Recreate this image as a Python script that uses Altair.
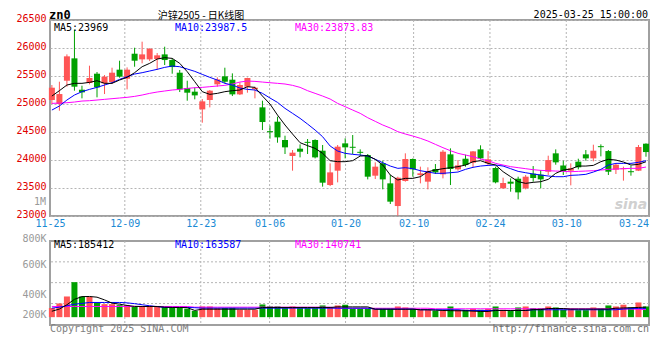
import altair as alt
import pandas as pd

# ---------------- data ----------------
opens = [25071, 25000, 25416, 25815, 25255, 25375, 25541, 25369, 25392, 25613,
         25452, 25898, 25797, 25797, 25803, 25886, 25785, 25559, 25285, 25220,
         24904, 25071, 25351, 25494, 25434, 25172, 25309, 25267, 24940, 24515,
         24684, 24357, 24071, 24202, 24324, 24357, 24166, 23553, 23809, 24297,
         24236, 24146, 24089, 23720, 23940, 23583, 23178, 23625, 24018, 23732,
         23613, 23839, 23744, 24101, 23833, 24023, 23952, 24190, 23940, 23857,
         23494, 23613, 23666, 23494, 23756, 23738, 23791, 24119, 23904, 23809,
         23970, 24101, 24029, 24247, 24160, 23827, 23836, 23800, 23809, 24291]
highs = [25339, 25398, 25886, 26327, 25327, 25684, 25571, 25517, 25648, 25773,
         25654, 26005, 26113, 25994, 25910, 26023, 25815, 25607, 25416, 25297,
         25089, 25250, 25476, 25648, 25547, 25386, 25470, 25309, 25059, 24613,
         24773, 24434, 24178, 24279, 24375, 24369, 24268, 23940, 24268, 24387,
         24446, 24190, 24107, 23958, 23988, 23732, 23702, 24119, 24029, 23881,
         23869, 23928, 24178, 24208, 23999, 24095, 24160, 24262, 24160, 23881,
         23684, 23672, 23702, 23732, 23892, 23821, 24077, 24190, 23988, 23940,
         24023, 24178, 24273, 24279, 24178, 23946, 23881, 23898, 24268, 24297]
lows = [25000, 24880, 25309, 25238, 25101, 25351, 25119, 25178, 25357, 25470,
        25261, 25666, 25726, 25767, 25607, 25696, 25541, 25214, 25059, 25083,
        24666, 24940, 25309, 25369, 25142, 25160, 25202, 25101, 24535, 24381,
        24309, 24107, 23809, 24047, 24107, 24029, 23524, 23535, 23601, 24029,
        24107, 24071, 23654, 23660, 23476, 23214, 23006, 23613, 23702, 23583,
        23476, 23750, 23672, 23553, 23809, 23881, 23869, 24012, 23910, 23583,
        23488, 23434, 23297, 23476, 23613, 23494, 23732, 23916, 23732, 23547,
        23833, 23988, 23976, 24065, 23732, 23750, 23631, 23720, 23803, 24059]
closes = [25291, 25178, 25851, 25309, 25208, 25464, 25297, 25488, 25559, 25488,
          25613, 25773, 25886, 25988, 25869, 25785, 25660, 25261, 25202, 25154,
          25047, 25238, 25440, 25398, 25172, 25339, 25464, 25291, 24678, 24497,
          24404, 24226, 24131, 24148, 24306, 24047, 23595, 23779, 24238, 24226,
          24218, 24128, 23702, 23881, 23654, 23256, 23684, 24018, 23833, 23762,
          23803, 23779, 24148, 23839, 23904, 23910, 24154, 24029, 24012, 23601,
          23589, 23577, 23422, 23702, 23678, 23654, 23999, 23958, 23803, 23851,
          23869, 24029, 24166, 24229, 23791, 23916, 23854, 23782, 24232, 24142]
ma5 = [25142, 25238, 25339, 25369, 25369, 25386, 25416, 25369, 25369, 25428,
       25476, 25559, 25666, 25726, 25803, 25827, 25815, 25726, 25577, 25398,
       25220, 25172, 25190, 25220, 25238, 25250, 25309, 25297, 25142, 25000,
       24803, 24625, 24464, 24309, 24256, 24208, 24119, 23988, 23970, 23970,
       23988, 24071, 24077, 24012, 23910, 23732, 23643, 23672, 23672, 23702,
       23791, 23821, 23845, 23863, 23881, 23910, 23970, 23988, 23940, 23910,
       23791, 23702, 23613, 23583, 23601, 23613, 23654, 23762, 23821, 23839,
       23892, 23892, 23904, 23970, 24012, 23999, 23964, 23910, 23922, 23969]
ma10 = [24892, 24964, 25071, 25160, 25220, 25261, 25297, 25339, 25380, 25440,
        25488, 25535, 25559, 25589, 25619, 25654, 25678, 25666, 25625, 25583,
        25529, 25476, 25428, 25369, 25339, 25285, 25261, 25250, 25190, 25107,
        25029, 24922, 24833, 24744, 24642, 24535, 24416, 24250, 24160, 24119,
        24101, 24089, 24071, 24012, 23952, 23892, 23851, 23863, 23845, 23809,
        23785, 23762, 23762, 23773, 23785, 23833, 23869, 23892, 23904, 23910,
        23892, 23845, 23797, 23773, 23750, 23732, 23714, 23702, 23702, 23726,
        23732, 23744, 23785, 23833, 23910, 23940, 23940, 23940, 23958, 23988]
ma30 = [25011, 25017, 25023, 25035, 25053, 25059, 25071, 25083, 25095, 25107,
        25119, 25136, 25160, 25190, 25214, 25232, 25250, 25261, 25279, 25291,
        25297, 25309, 25321, 25333, 25357, 25392, 25410, 25404, 25392, 25380,
        25369, 25357, 25333, 25297, 25238, 25190, 25142, 25089, 25011, 24952,
        24892, 24833, 24755, 24690, 24625, 24571, 24506, 24464, 24428, 24387,
        24339, 24279, 24220, 24166, 24119, 24089, 24059, 24018, 23988, 23940,
        23910, 23881, 23863, 23845, 23827, 23815, 23809, 23803, 23797, 23791,
        23797, 23803, 23809, 23821, 23833, 23839, 23845, 23851, 23851, 23874]
volumes = [170000, 254000, 383000, 648000, 383000, 374000, 267000, 241000, 241000, 222000,
           222000, 189000, 198000, 211000, 198000, 189000, 174000, 170000, 157000, 118000,
           198000, 198000, 167000, 170000, 174000, 137000, 137000, 137000, 235000, 198000,
           198000, 167000, 198000, 167000, 167000, 167000, 217000, 180000, 217000, 230000,
           156000, 156000, 156000, 156000, 156000, 156000, 198000, 180000, 156000, 137000,
           137000, 118000, 118000, 198000, 137000, 137000, 156000, 137000, 156000, 198000,
           137000, 118000, 180000, 198000, 167000, 167000, 198000, 180000, 137000, 156000,
           130000, 130000, 180000, 156000, 217000, 198000, 230000, 180000, 272000, 198000]
vol_ma5 = [110000, 150000, 230000, 330000, 380000, 383000, 370000, 320000, 260000, 240000,
           217000, 200000, 198000, 198000, 198000, 185000, 180000, 180000, 175000, 125000,
           148000, 148000, 148000, 148000, 148000, 148000, 148000, 148000, 180000, 180000,
           180000, 180000, 180000, 180000, 180000, 180000, 180000, 180000, 190000, 190000,
           190000, 190000, 190000, 148000, 148000, 148000, 148000, 148000, 148000, 137000,
           137000, 130000, 124000, 120000, 118000, 118000, 112000, 106000, 106000, 124000,
           124000, 124000, 124000, 124000, 140000, 140000, 160000, 160000, 160000, 150000,
           150000, 150000, 150000, 150000, 150000, 165000, 170000, 175000, 180000, 185412]
vol_ma10 = [167000, 185000, 211000, 240000, 255000, 272000, 272000, 272000, 272000, 272000,
            265000, 250000, 230000, 211000, 195000, 180000, 180000, 180000, 180000, 175000,
            167000, 167000, 167000, 167000, 167000, 167000, 167000, 167000, 167000, 167000,
            167000, 167000, 167000, 167000, 167000, 167000, 167000, 167000, 167000, 167000,
            167000, 167000, 167000, 148000, 148000, 148000, 148000, 148000, 148000, 137000,
            137000, 137000, 137000, 137000, 137000, 124000, 124000, 124000, 124000, 124000,
            124000, 124000, 124000, 124000, 137000, 137000, 137000, 137000, 137000, 137000,
            137000, 137000, 137000, 137000, 137000, 137000, 150000, 160000, 163000, 163587]
vol_ma30 = [198000, 198000, 198000, 198000, 198000, 198000, 198000, 198000, 198000, 198000,
            198000, 198000, 198000, 198000, 198000, 198000, 198000, 198000, 198000, 185000,
            185000, 185000, 185000, 185000, 185000, 185000, 185000, 185000, 185000, 185000,
            185000, 185000, 185000, 185000, 185000, 185000, 185000, 185000, 165000, 165000,
            165000, 165000, 165000, 165000, 165000, 165000, 165000, 165000, 165000, 165000,
            165000, 155000, 155000, 155000, 155000, 155000, 155000, 155000, 155000, 155000,
            155000, 155000, 155000, 155000, 155000, 155000, 155000, 155000, 155000, 155000,
            155000, 155000, 155000, 155000, 155000, 155000, 155000, 150000, 145000, 140741]

date_labels = ["11-25", "12-09", "12-23", "01-06", "01-20", "02-10", "02-24", "03-10", "03-24"]
date_pos = [-0.25, 9.7, 19.8, 28.95, 39.05, 48.1, 58.25, 68.4, 77.34]
grid_pos = [9.7, 19.8, 28.95, 39.05, 48.1, 58.25, 68.4]
price_ticks = [23000, 23500, 24000, 24500, 25000, 25500, 26000, 26500]
vol_label_text = ["800K", "600K", "400K", "200K"]
vol_label_pos = [1410000, 920000, 365000, 0]
vol_grid = [1024000, 639000, 252000]

# ---------------- styling ----------------
MONO = "DejaVu Sans Mono"
RED = "#ff5555"
GREEN = "#00a000"
GRIDC = "#b4b4b4"
W, H1, H2 = 599, 196, 84

n = len(opens)
df = pd.DataFrame({
    "i": list(range(n)), "open": opens, "high": highs, "low": lows, "close": closes,
    "ma5": ma5, "ma10": ma10, "ma30": ma30,
    "vol": volumes, "vma5": vol_ma5, "vma10": vol_ma10, "vma30": vol_ma30,
})


def lab_expr(poss, labs):
    e = "''"
    for p, l in reversed(list(zip(poss, labs))):
        e = f"abs(datum.value - ({p})) < 0.001 ? '{l}' : ({e})"
    return e


xscale = alt.Scale(domain=[-0.25, 79.4], nice=False, zero=False, padding=0)
pscale = alt.Scale(domain=[23000, 26500], nice=False, zero=False, padding=0)
vscale = alt.Scale(domain=[-145000, 1410000], nice=False, zero=False, padding=0)

x_axis = alt.Axis(values=date_pos, labelExpr=lab_expr(date_pos, date_labels), grid=False,
                  domain=False, ticks=False, tickSize=0, labelPadding=2, labelFlush=False,
                  labelBound=False, labelOverlap=False, labelFont=MONO, labelFontSize=10,
                  labelColor="#1a8ad4", title=None)
y_axis = alt.Axis(values=price_ticks, format="d", grid=True, gridDash=[2, 2], gridColor=GRIDC,
                  gridWidth=1, domain=False, ticks=False, tickSize=0, labelPadding=4,
                  labelFont=MONO, labelFontSize=10, labelColor="#e00000", labelOffset=-1.5,
                  labelFlush=False, labelOverlap=False, title=None)
v_axis = alt.Axis(values=vol_label_pos, labelExpr=lab_expr(vol_label_pos, vol_label_text),
                  grid=False, domain=False, ticks=False, tickSize=0, labelPadding=4,
                  labelFont=MONO, labelFontSize=10, labelColor="#999999", title=None,
                  labelFlush=False, labelOverlap=False, labelOffset=-3)

color = alt.condition("datum.close >= datum.open", alt.value(RED), alt.value(GREEN))
base = alt.Chart(df)
X = alt.X("i:Q", scale=xscale, axis=x_axis)
Xn = alt.X("i:Q", scale=xscale, axis=None)


def txt(s, x, y, color="#000000", size=10, align="left", baseline="middle",
        font=MONO, weight="normal", style="normal"):
    return alt.Chart(pd.DataFrame({"t": [s]})).mark_text(
        align=align, baseline=baseline, font=font, fontSize=size,
        fontWeight=weight, fontStyle=style, color=color
    ).encode(x=alt.value(x), y=alt.value(y), text="t:N")


# ---------------- price panel ----------------
vgrid = alt.Chart(pd.DataFrame({"g": grid_pos})).mark_rule(
    color=GRIDC, strokeDash=[2, 2], strokeWidth=1
).encode(x=alt.X("g:Q", scale=xscale, axis=x_axis))

wicks = base.mark_rule(strokeWidth=1).encode(
    x=X, y=alt.Y("low:Q", scale=pscale, axis=y_axis), y2="high:Q", color=color)
bodies = base.mark_bar(size=6).encode(
    x=X, y=alt.Y("open:Q", scale=pscale, axis=y_axis), y2="close:Q", color=color)


def ma_line(field, c, sc, ax, xx):
    return base.mark_line(color=c, strokeWidth=1).encode(
        x=xx, y=alt.Y(f"{field}:Q", scale=sc, axis=ax))


top = alt.layer(
    vgrid, wicks, bodies,
    ma_line("ma30", "#ff00ff", pscale, y_axis, X),
    ma_line("ma10", "#0000ff", pscale, y_axis, X),
    ma_line("ma5", "#000000", pscale, y_axis, X),
    txt("MA5:23969", 4, 7.5, "#000000"),
    txt("MA10:23987.5", 125, 7.5, "#0000ff"),
    txt("MA30:23873.83", 245, 7.5, "#ff00ff"),
    txt("沪锌2505 - 日K线图", 151, -9.5, "#000000", size=10, align="center",
        baseline="top", font="Noto Sans CJK SC"),
    txt("zn0", -1, -10, "#000000", size=12, baseline="top", weight="bold"),
    txt("2025-03-25 15:00:00", 598, -10, "#000000", align="right", baseline="top"),
    txt("1M", -4, 181.7, "#999999", align="right"),
    txt("sina", 581, 185, "#d0d0d0", size=14, align="center", font="DejaVu Sans",
        weight="bold", style="italic"),
).properties(width=W, height=H1)

# ---------------- volume panel ----------------
vgrid2 = alt.Chart(pd.DataFrame({"g": grid_pos})).mark_rule(
    color=GRIDC, strokeDash=[2, 2], strokeWidth=1
).encode(x=alt.X("g:Q", scale=xscale, axis=None))
hgrid2 = alt.Chart(pd.DataFrame({"v": vol_grid})).mark_rule(
    color=GRIDC, strokeDash=[2, 2], strokeWidth=1
).encode(y=alt.Y("v:Q", scale=vscale, axis=v_axis))
vbars = base.mark_bar(size=6).encode(
    x=Xn, y=alt.Y("vol:Q", scale=vscale, axis=v_axis), color=color)

bottom = alt.layer(
    vgrid2, hgrid2, vbars,
    ma_line("vma30", "#ff00ff", vscale, v_axis, Xn),
    ma_line("vma10", "#0000ff", vscale, v_axis, Xn),
    ma_line("vma5", "#000000", vscale, v_axis, Xn),
    txt("MA5:185412", 4, 4, "#000000"),
    txt("MA10:163587", 125, 4, "#0000ff"),
    txt("MA30:140741", 245, 4, "#ff00ff"),
    txt("Copyright 2025 SINA.COM", 0, 88, "#808080"),
    txt("http://finance.sina.com.cn", 599, 88, "#707070", align="right"),
).properties(width=W, height=H2)

chart = alt.vconcat(top, bottom, spacing=3).properties(
    padding={"left": 6, "top": 0, "right": 0, "bottom": 0},
    background="white",
).configure_view(stroke="#a0a0a0", strokeWidth=2, fill="white")

chart.save("out.html", embed_options={"renderer": "svg", "actions": False})
